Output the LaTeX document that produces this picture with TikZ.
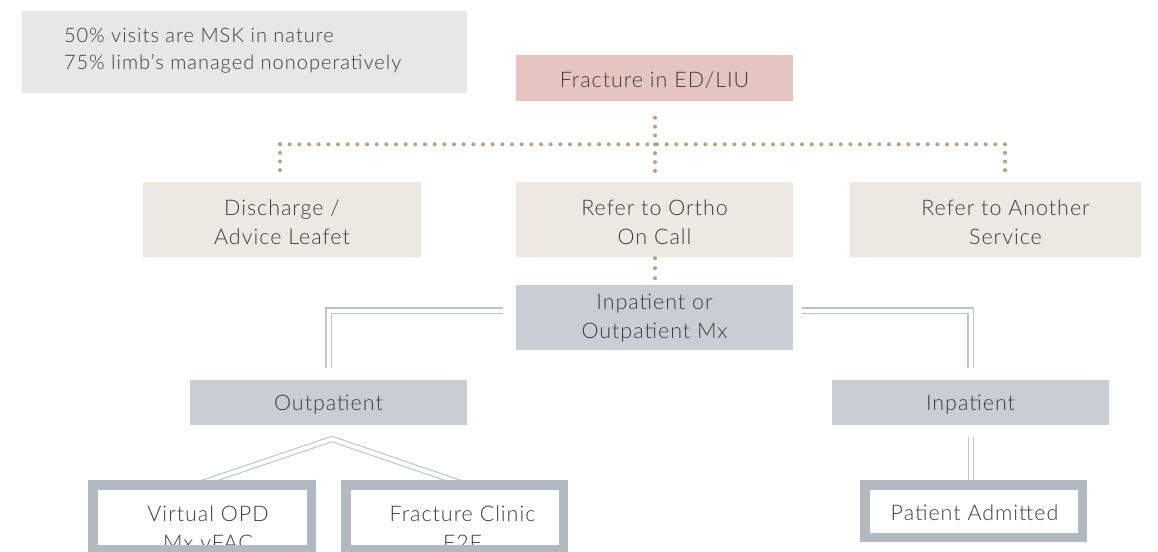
\documentclass[tikz,border=0pt]{standalone}
\usepackage{fontspec}
\setmainfont{Lato}[UprightFont={* Light}]
\usetikzlibrary{calc}
\definecolor{txt}{HTML}{3D3D3D}
\definecolor{noteC}{HTML}{E7E7E7}
\definecolor{pinkC}{HTML}{E6C5C1}
\definecolor{beigeC}{HTML}{EDE8E1}
\definecolor{slateC}{HTML}{C8CED4}
\definecolor{frameC}{HTML}{B2B9C0}
\definecolor{lineC}{HTML}{BCC4CB}
\definecolor{dotC}{HTML}{B9A17F}
\newcommand{\mainfnt}{\fontsize{21.5}{29}\selectfont\addfontfeatures{LetterSpace=4.5}}
\newcommand{\notefnt}{\fontsize{20}{27}\selectfont\addfontfeatures{LetterSpace=5}}
\begin{document}
\begin{tikzpicture}[x=1pt,y=-1pt,
  boxbase/.style={rectangle, inner sep=0pt, outer sep=0pt, anchor=north west, align=center,
    font=\mainfnt, text=txt},
  pinkbox/.style={boxbase, fill=pinkC},
  beigebox/.style={boxbase, fill=beigeC},
  slatebox/.style={boxbase, fill=slateC},
  whitebox/.style={boxbase, fill=white},
  lbl/.style={boxbase, anchor=center},
  frameline/.style={draw=frameC, line width=9.5pt},
  dbl/.style={draw=lineC, line width=1.1pt, double=white, double distance=4pt},
  dotline/.style={draw=dotC, line width=4pt, line cap=round},
]
\useasboundingbox (0,0) rectangle (1158,551);
\begin{scope}
\clip (0,0) rectangle (1158,551);
% note box
\node[boxbase, fill=noteC, minimum width=445pt, minimum height=82pt] (note) at (22,11) {};
\node[boxbase, anchor=west, align=left, font=\notefnt] (notetext) at (64,51)
  {50\% visits are MSK in nature\\75\% limb’s managed nonoperatively};
% top
\node[pinkbox, minimum width=277pt, minimum height=46pt] (fr) at (516,55) {};
\node[lbl] (frt) at ($(fr.center)+(0,2)$) {Fracture in ED/LIU};
% row 2
\node[beigebox, minimum width=278pt, minimum height=75pt] (dis) at (143,182) {};
\node[beigebox, minimum width=277pt, minimum height=75pt] (ref) at (516,182) {};
\node[beigebox, minimum width=291pt, minimum height=75pt] (ano) at (850,182) {};
\node[lbl] (dist) at ($(dis.center)+(0,3)$) {Discharge /\\Advice Leafet};
\node[lbl] (reft) at ($(ref.center)+(0,3)$) {Refer to Ortho\\On Call};
\node[lbl] (anot) at ($(ano.center)+(10,3)$) {Refer to Another\\Service};
% row 3
\node[slatebox, minimum width=277pt, minimum height=65pt] (mx) at (516,285) {};
\node[lbl] (mxt) at ($(mx.center)+(0,1)$) {Inpatient or\\Outpatient Mx};
% row 4
\node[slatebox, minimum width=277pt, minimum height=45pt] (outp) at (190,380) {};
\node[slatebox, minimum width=277pt, minimum height=45pt] (inp) at (832,380) {};
\node[lbl] (outpt) at ($(outp.center)+(0,2)$) {Outpatient};
\node[lbl] (inpt) at ($(inp.center)+(0,2)$) {Inpatient};
% row 5
\node[whitebox, minimum width=228pt, minimum height=74pt] (vopd) at (88,480) {};
\node[whitebox, minimum width=227pt, minimum height=74pt] (fc) at (341,480) {};
\node[whitebox, minimum width=227pt, minimum height=62pt] (pa) at (860,480) {};
\node[lbl] (vopdt) at ($(vopd.north)+(6,48)$) {Virtual OPD\\Mx vFAC};
\node[lbl] (fct) at ($(fc.north)+(8,48)$) {Fracture Clinic\\F2F};
\node[lbl] (pat) at ($(pa.center)+(1,2)$) {Patient Admitted};
% dotted connectors
\coordinate (jc) at (655,144.3);
\coordinate (jl) at (280,144.3);
\coordinate (jr) at (1005,144.3);
\draw[dotline, dash pattern=on 0pt off 8.87pt] (655,117.7) -- (jc) -- (655,171);
\draw[dotline, dash pattern=on 0pt off 9.667pt] (jl) -- (jr);
\draw[dotline, dash pattern=on 0pt off 8.6pt] (jl) -- (280,170.1);
\draw[dotline, dash pattern=on 0pt off 8.6pt] (jr) -- (1005,170.1);
\draw[dotline, dash pattern=on 0pt off 10pt] ($(ref.south)+(0.5,1.2)$) -- ($(ref.south)+(0.5,21.5)$);
% double connectors
\coordinate (ls) at ($(mx.west)+(-13,-7)$);
\coordinate (rs) at ($(mx.east)+(9,-7)$);
\draw[dbl] (ls) -- (outp.north |- ls) -- ($(outp.north)+(0,-12)$);
\draw[dbl] (rs) -- (inp.north |- rs) -- ($(inp.north)+(0,-12)$);
\coordinate (apex) at ($(outp.south)+(3.5,14)$);
\draw[dbl] ($(vopd.north)+(-3,4)$) -- (apex) -- ($(fc.north)+(9,4)$);
\draw[dbl] ($(inp.south)+(0.5,12)$) -- ($(inp.south)+(0.5,56)$);
% frames (drawn over text)
\draw[frameline] ($(vopd.north west)+(4.75,4.75)$) rectangle ($(vopd.south east)+(-4.75,-4.75)$);
\draw[frameline] ($(fc.north west)+(4.75,4.75)$) rectangle ($(fc.south east)+(-4.75,-4.75)$);
\draw[frameline] ($(pa.north west)+(4.75,4.75)$) rectangle ($(pa.south east)+(-4.75,-4.75)$);
\end{scope}
\end{tikzpicture}
\end{document}
